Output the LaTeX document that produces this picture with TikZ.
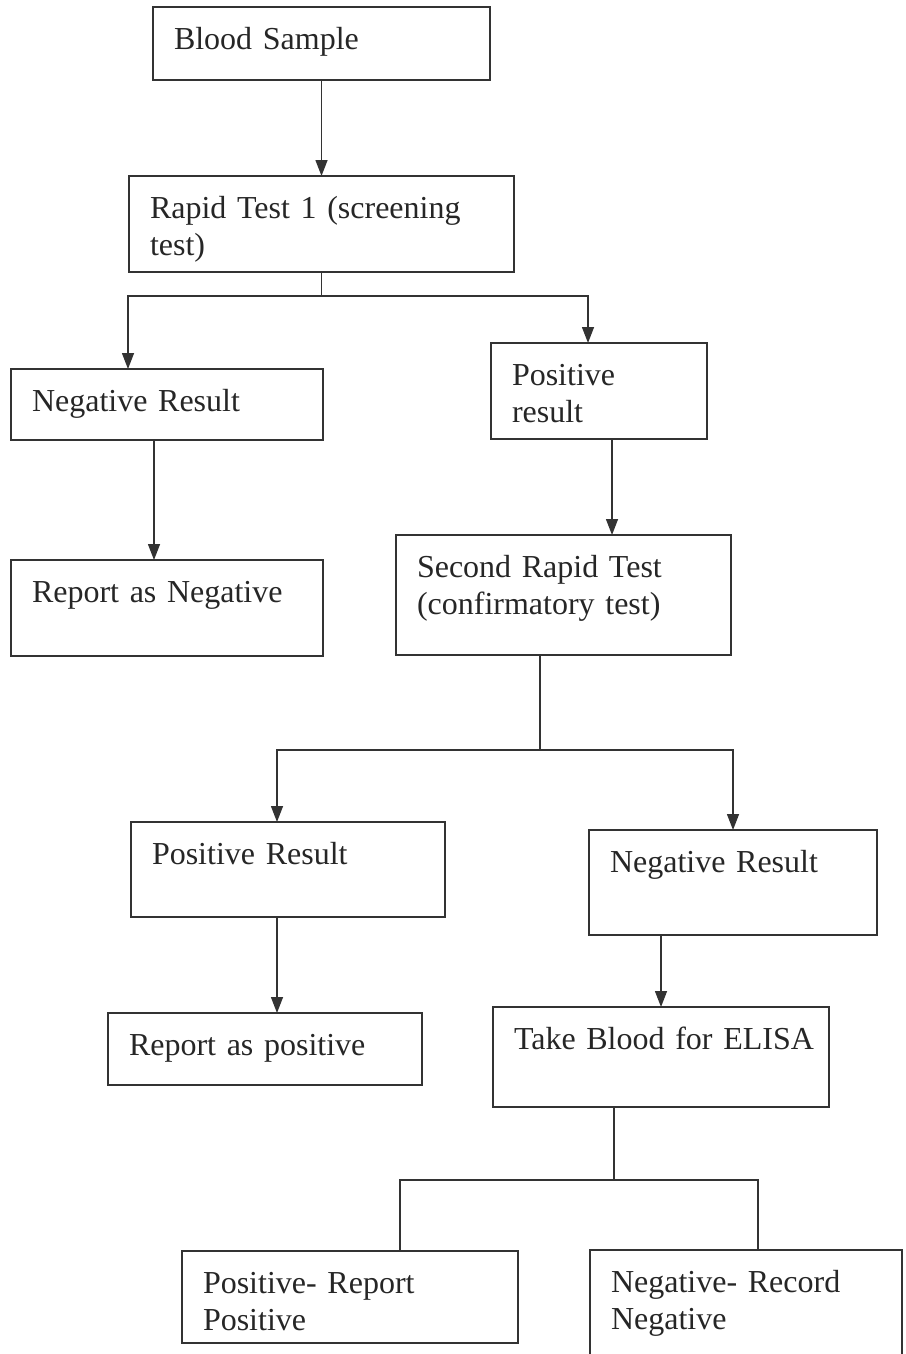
\documentclass[tikz,border=0pt]{standalone}
\usepackage{fontspec}
\setmainfont{Liberation Serif}[WordSpace=0.8]
\usetikzlibrary{arrows.meta,positioning,calc}

\begin{document}
\begin{tikzpicture}[x=1pt, y=1pt,
		every node/.style={align=left, font=\fontsize{32}{37}\selectfont, text=black!85},
		flowBox/.style={
				draw=black!80, line width=1.6pt, anchor=north west,
				inner xsep=21pt, inner ysep=20pt, outer sep=0pt,
				text height=22pt
			},
		flowLine/.style={draw=black!80, line width=1.4pt},
		flowArrow/.style={flowLine, -{Triangle[width=12pt, length=16pt]}}
	]
	\path[use as bounding box, clip] (0,0) rectangle (905,-1354);

	% Screening
	\node[flowBox, text width=295pt, text depth=11pt] (A1) at (153,-7) {Blood Sample};
	\node[flowBox, text width=343pt, text depth=34pt] (A2) at (129,-176) {Rapid Test 1 (screening\\test)};
	\node[flowBox, text width=270pt, text depth=9pt] (B1) at (11,-369) {Negative Result};
	\node[flowBox, text width=174pt, text depth=34pt] (B2) at (491,-343) {Positive\\result};
	\node[flowBox, text width=270pt, text depth=34pt] (C1) at (11,-560) {Report as Negative};
	\node[flowBox, text width=293pt, text depth=58pt] (C2) at (396,-535) {Second Rapid Test\\(confirmatory test)};

	% Confirmation
	\node[flowBox, text width=272pt, text depth=33pt] (D1) at (131,-822) {Positive Result};
	\node[flowBox, text width=246pt, text depth=43pt] (D2) at (589,-830) {Negative Result};
	\node[flowBox, text width=272pt, text depth=10pt] (E1) at (108,-1013) {Report as positive};
	\node[flowBox, text width=294pt, text depth=38pt] (E2) at (493,-1007) {\mbox{Take Blood for ELISA}};

	% ELISA outcome
	\node[flowBox, text width=294pt, text depth=30pt] (F1) at (182,-1251) {Positive- Report\\Positive};
	\node[flowBox, text width=270pt, text depth=80pt] (F2) at (590,-1250) {Negative- Record\\Negative};

	\draw[flowArrow] (A1.south) -- (A2.north);
	\path[flowLine] (A2.south) -- ++(0,-24) coordinate (J1);
	\draw[flowArrow] (J1) -| ([xshift=117pt]B1.north west);
	\draw[flowArrow] (J1) -| ([xshift=97pt]B2.north west);
	\draw[flowArrow] ([xshift=143pt]B1.south west) -- ([xshift=143pt]C1.north west);
	\draw[flowArrow] ([xshift=121pt]B2.south west) -- ([xshift=216pt]C2.north west);

	\path[flowLine] ([xshift=144pt]C2.south west) -- ++(0,-95) coordinate (J2);
	\draw[flowArrow] (J2) -| ([xshift=146pt]D1.north west);
	\draw[flowArrow] (J2) -| ([xshift=144pt]D2.north west);
	\draw[flowArrow] ([xshift=146pt]D1.south west) -- ([xshift=169pt]E1.north west);
	\draw[flowArrow] ([xshift=72pt]D2.south west) -- ([xshift=168pt]E2.north west);

	\path[flowLine] ([xshift=121pt]E2.south west) -- ++(0,-73) coordinate (J3);
	\draw[flowLine] (J3) -| ([xshift=218pt]F1.north west);
	\draw[flowLine] (J3) -| ([xshift=168pt]F2.north west);
\end{tikzpicture}
\end{document}
